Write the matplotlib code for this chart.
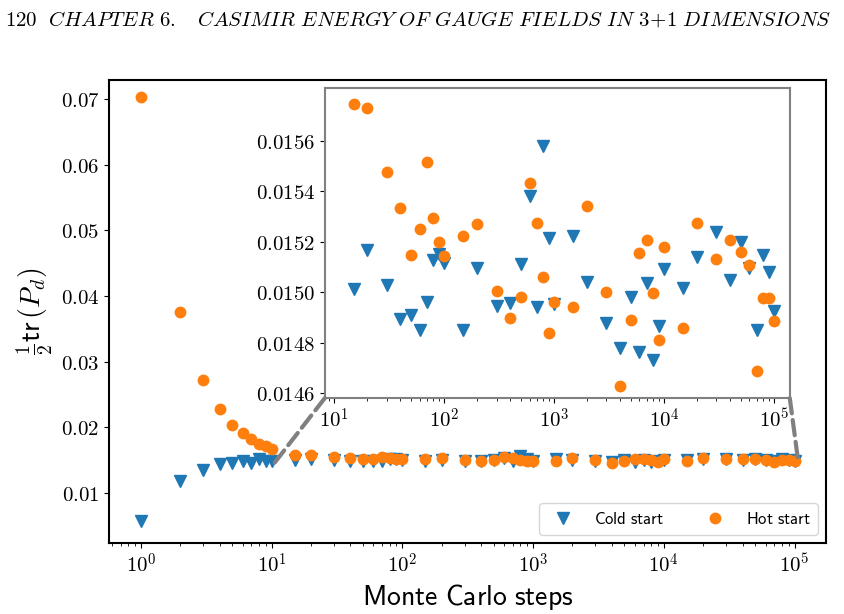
import numpy as np
import matplotlib
matplotlib.use('Agg')
import matplotlib.pyplot as plt
from matplotlib.patches import ConnectionPatch
from matplotlib.ticker import FormatStrFormatter, FuncFormatter, NullFormatter

plt.rcParams['mathtext.fontset'] = 'cm'

# Monte Carlo steps
steps = [1, 2, 3, 4, 5, 6, 7, 8, 9, 10,
         15, 20, 30, 40, 50, 60, 70, 80, 90, 100,
         150, 200, 300, 400, 500, 600, 700, 800, 900, 1000,
         1500, 2000, 3000, 4000, 5000, 6000, 7000, 8000, 9000, 10000,
         15000, 20000, 30000, 40000, 50000, 60000, 70000, 80000, 90000, 100000]

# 1/2 tr(P_d), cold start
cold = [0.0057, 0.0118, 0.01356, 0.01442, 0.01457, 0.01483, 0.01457, 0.01523, 0.01483, 0.01483,
        0.015011, 0.015167, 0.015027, 0.014892, 0.014911, 0.014850, 0.014961, 0.015127, 0.015150, 0.015116,
        0.014850, 0.015095, 0.014945, 0.014958, 0.015110, 0.015383, 0.014941, 0.015578, 0.015213, 0.014952,
        0.015222, 0.015040, 0.014879, 0.014778, 0.014982, 0.014761, 0.015037, 0.014730, 0.014864, 0.015090,
        0.015018, 0.015139, 0.015238, 0.015048, 0.015198, 0.015097, 0.014850, 0.015149, 0.015080, 0.014924]

# 1/2 tr(P_d), hot start
hot = [0.07025, 0.0375, 0.0272, 0.02284, 0.02035, 0.01919, 0.01817, 0.01746, 0.01721, 0.01665,
       0.015745, 0.015729, 0.015477, 0.015333, 0.015149, 0.015250, 0.015518, 0.015294, 0.015197, 0.015145,
       0.015223, 0.015271, 0.015006, 0.014898, 0.014982, 0.015431, 0.015276, 0.015061, 0.014837, 0.014960,
       0.014941, 0.015342, 0.015002, 0.014629, 0.014890, 0.015156, 0.015206, 0.014997, 0.014812, 0.015178,
       0.014857, 0.015273, 0.015132, 0.015207, 0.015159, 0.015106, 0.014686, 0.014978, 0.014978, 0.014885]

main_yticks = [0.01, 0.02, 0.03, 0.04, 0.05, 0.06, 0.07]
inset_yticks = [0.0146, 0.0148, 0.0150, 0.0152, 0.0154, 0.0156]
main_xticks = [1, 10, 100, 1000, 10000, 100000]
inset_xticks = [10, 100, 1000, 10000, 100000]

# computer-modern style decade labels
decade = FuncFormatter(lambda v, p: r'$10^{%d}$' % round(np.log10(v)))

fig = plt.figure(figsize=(8.45, 6.14), dpi=100)
ax = fig.add_axes([0.129, 0.1156, 0.8485, 0.7541])

ax.plot(steps, cold, 'v', color='#1f77b4', ms=8, label=r'$\mathsf{Cold\ start}$')
ax.plot(steps, hot, 'o', color='#ff7f0e', ms=7.5, label=r'$\mathsf{Hot\ start}$')
ax.set_xscale('log')
ax.set_xlim(0.569, 1.74e5)
ax.set_ylim(0.0024, 0.0729)
ax.set_xticks(main_xticks)
ax.set_yticks(main_yticks)
ax.yaxis.set_major_formatter(FormatStrFormatter(r'$%.2f$'))
ax.xaxis.set_major_formatter(decade)
ax.xaxis.set_minor_formatter(NullFormatter())
ax.tick_params(labelsize=15)
for s in ax.spines.values():
    s.set_linewidth(1.5)

ax.set_xlabel(r'$\mathsf{Monte\ Carlo\ steps}$', fontsize=20)
ax.set_ylabel(r'$\frac{1}{2}\mathsf{tr}\,(P_d)$', fontsize=20)

leg = ax.legend(loc='lower right', ncol=2, fontsize=12, columnspacing=2.0,
                handletextpad=0.9, borderaxespad=0.5)

# zoomed inset
axins = ax.inset_axes([0.301, 0.313, 0.6485, 0.67])
axins.plot(steps[10:], cold[10:], 'v', color='#1f77b4', ms=8)
axins.plot(steps[10:], hot[10:], 'o', color='#ff7f0e', ms=7.5)
axins.set_xscale('log')
axins.set_xlim(8.2, 1.4e5)
axins.set_ylim(0.01458, 0.01581)
axins.set_xticks(inset_xticks)
axins.set_yticks(inset_yticks)
axins.yaxis.set_major_formatter(FormatStrFormatter(r'$%.4f$'))
axins.xaxis.set_major_formatter(decade)
axins.xaxis.set_minor_formatter(NullFormatter())
axins.tick_params(labelsize=15)
for s in axins.spines.values():
    s.set_color('0.5')
    s.set_linewidth(1.5)

# dashed connectors from inset to zoomed region
for xa, xb in [(0, 10.5), (1, 1.07e5)]:
    con = ConnectionPatch(xyA=(xa, 0), coordsA=axins.transAxes,
                          xyB=(xb, 0.0146), coordsB=ax.transData,
                          ls='--', color='0.5', lw=3)
    fig.add_artist(con)

header = (r'$120\ \ \mathit{CHAPTER\ 6.\ \ \ CASIMIR\ ENERGY\ OF\ GAUGE\ FIELDS\ IN\ '
          r'3\!+\!1\ DIMENSIONS}$')
fig.text(0.006, 0.985, header, fontsize=15, va='top', ha='left')

fig.savefig('out.png', dpi=100)
